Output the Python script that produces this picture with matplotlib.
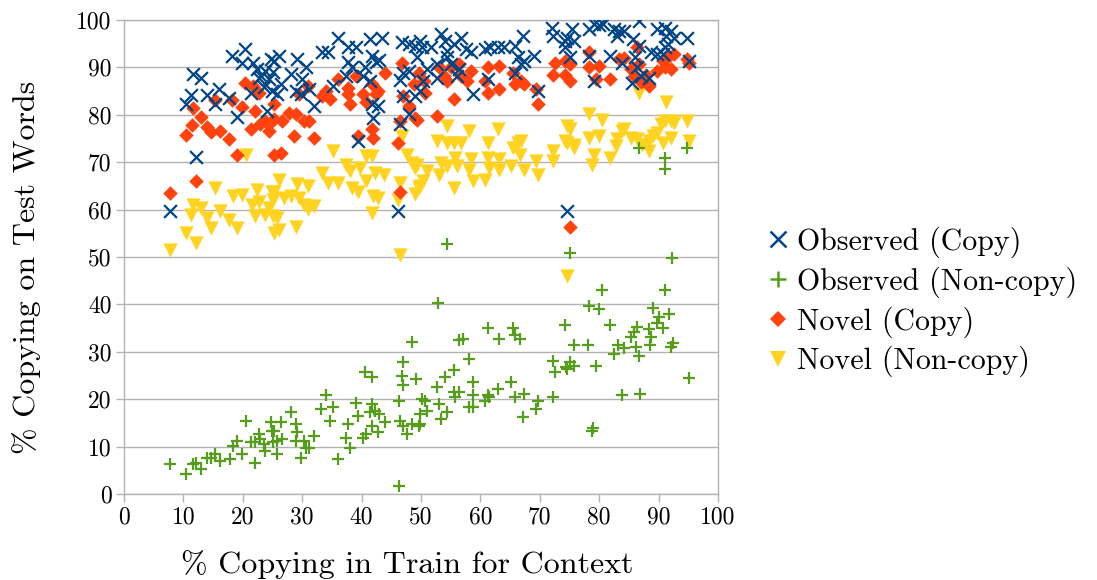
import matplotlib
matplotlib.use("Agg")
import matplotlib.pyplot as plt
from matplotlib.lines import Line2D

plt.rcParams['font.family'] = ['cmr10', 'DejaVu Serif']
plt.rcParams['mathtext.fontset'] = 'cm'
plt.rcParams['axes.unicode_minus'] = False
plt.rcParams['axes.formatter.use_mathtext'] = True

# ---------------- data ----------------
obs_copy = [
    (7.7,59.7),(12.2,71.0),(10.5,82.2),(11.3,84.1),(11.6,88.6),(13.0,87.8),(13.9,84.1),(15.3,82.2),
    (16.0,85.4),(17.7,83.6),(19.0,79.5),(18.2,92.4),(20.4,93.9),(19.8,91.0),(21.8,91.0),(22.4,89.6),
    (23.0,88.2),(22.7,87.8),(23.8,89.3),(24.7,91.7),(24.4,87.6),(21.3,84.7),(23.5,85.8),(24.1,80.8),
    (24.9,85.0),(26.1,92.4),(25.2,91.4),(25.0,89.0),(26.4,86.4),(25.8,84.3),(28.1,88.6),(29.2,91.7),
    (30.6,90.0),(30.0,87.5),(29.0,85.0),(29.8,84.3),(31.2,85.4),(32.0,81.8),(33.4,93.2),(34.3,93.2),
    (36.0,96.3),(37.7,94.2),(39.1,94.2),(37.7,91.1),(38.3,90.0),(40.5,90.0),(41.4,95.9),(43.4,96.3),
    (41.7,92.4),(42.5,91.1),(43.0,91.5),(37.4,88.2),(40.2,88.2),(41.4,87.1),(41.7,82.2),(41.9,79.3),
    (42.8,81.8),(39.4,74.5),(35.2,86.1),(46.8,95.3),(47.9,94.9),(49.0,94.6),(49.3,92.1),(47.0,88.9),
    (47.9,89.2),(46.5,87.3),(47.0,84.0),(47.9,80.1),(46.5,78.0),(49.0,84.0),(46.2,59.6),(49.9,95.6),
    (50.2,94.2),(51.6,94.2),(53.3,97.0),(54.1,95.6),(54.4,93.5),(55.6,95.0),(56.7,96.3),(57.6,93.9),
    (58.4,93.2),(60.7,93.9),(61.6,94.2),(62.9,94.2),(64.0,94.2),(65.8,94.6),(67.2,96.6),(66.3,92.1),
    (66.9,90.7),(67.4,91.4),(69.1,92.4),(51.0,89.6),(52.7,90.7),(54.4,92.1),(55.0,90.7),(56.4,89.6),
    (56.1,88.2),(50.4,87.1),(52.7,87.8),(49.9,85.0),(58.7,84.3),(61.2,87.5),(65.8,88.9),(69.7,85.0),
    (72.0,98.4),(72.3,96.6),(74.3,94.2),(74.3,95.6),(74.5,59.7),(75.4,98.1),(74.5,96.3),(75.7,95.6),
    (75.1,92.1),(78.2,98.1),(79.1,99.2),(79.9,98.9),(80.7,99.2),(78.2,92.4),(79.1,87.1),(81.9,92.4),
    (82.5,98.1),(83.3,97.7),(83.0,96.6),(84.2,97.7),(83.9,91.0),(85.7,96.0),(86.7,99.8),(86.7,94.6),
    (86.0,92.1),(86.4,90.0),(85.6,86.8),(87.0,88.2),(88.4,87.8),(88.7,93.2),(89.8,92.8),(90.7,92.8),
    (91.5,94.9),(89.8,98.1),(91.0,98.4),(92.1,97.7),(91.3,96.6),(92.6,96.3),(94.7,96.3),(95.2,91.4),
    (91.0,94.2),
]

obs_noncopy = [
    (7.7,6.4),(10.5,4.2),(11.6,6.3),(12.2,6.6),(13.0,5.2),(13.9,7.7),(14.7,7.7),(15.3,8.4),(16.2,7.0),
    (17.9,7.3),(19.8,8.4),(18.4,10.2),(19.0,11.2),(20.5,15.3),(21.3,10.9),(22.1,6.6),(22.1,10.9),
    (22.7,12.6),(22.9,11.6),(23.5,10.5),(23.8,9.1),(24.7,15.1),(24.9,13.3),(25.0,10.9),(25.2,13.3),
    (26.4,15.1),(25.8,11.2),(26.6,11.6),(25.8,8.4),(28.1,17.2),(29.0,14.8),(29.2,13.0),(29.0,11.2),
    (29.8,7.7),(30.3,11.2),(30.6,9.8),(31.2,9.8),(32.0,12.3),(33.2,17.9),(34.0,20.8),(35.2,18.3),
    (34.6,15.5),(36.0,7.3),(37.7,14.8),(37.4,11.9),(38.0,9.8),(39.1,19.3),(39.4,16.5),(40.2,11.9),
    (40.5,25.7),(41.7,24.6),(41.7,19.0),(41.4,17.2),(42.2,17.6),(41.7,14.4),(40.8,12.6),(42.8,13.0),
    (43.9,15.1),(43.0,16.9),(46.3,19.7),(46.5,15.5),(47.0,14.4),(47.6,12.6),(48.5,14.8),(49.6,14.4),
    (46.3,1.7),(48.5,32.1),(46.9,27.8),(46.8,25.0),(47.0,22.9),(49.1,24.3),(54.3,52.8),(52.8,40.3),
    (50.2,20.1),(50.7,19.7),(49.9,16.9),(51.0,17.6),(49.9,14.8),(52.7,22.5),(53.0,19.0),(53.3,15.8),
    (54.1,24.6),(54.4,17.2),(55.6,26.1),(55.6,21.5),(55.8,20.4),(56.4,21.5),(56.4,32.4),(57.0,32.8),
    (58.1,28.5),(58.7,23.6),(58.7,20.8),(58.1,18.3),(58.7,18.3),(60.7,19.7),(61.2,20.8),(61.4,20.5),
    (61.2,35.1),(62.9,22.2),(63.2,32.8),(65.1,23.7),(65.5,35.1),(65.8,33.5),(66.7,32.8),(65.9,20.4),
    (67.2,16.2),(67.4,21.1),(69.4,17.9),(69.7,19.7),(72.3,20.4),(72.2,28.0),(72.5,25.7),(74.3,35.6),
    (74.4,26.7),(75.1,50.9),(92.2,49.7),(80.5,43.0),(91.0,43.0),(78.2,39.6),(79.9,39.1),(89.0,39.3),
    (91.8,37.9),(90.1,37.4),(81.8,35.6),(86.4,35.2),(88.4,34.9),(89.8,36.0),(90.7,35.1),(85.9,34.2),
    (85.3,33.1),(88.7,33.1),(75.7,31.4),(78.1,31.4),(83.2,31.4),(84.2,30.7),(86.2,31.0),(88.6,31.4),
    (92.4,31.8),(92.1,31.1),(82.5,29.6),(86.7,29.2),(75.1,27.8),(75.7,27.1),(74.5,26.4),(79.4,27.1),
    (95.2,24.4),(83.8,20.9),(86.9,21.1),(79.0,14.0),(78.8,13.3),(86.7,73.0),(91.0,70.9),(91.0,68.6),
    (94.8,73.0),
]

novel_copy = [
    (7.7,63.5),(12.2,66.1),(10.5,75.7),(11.5,77.8),(11.6,81.5),(13.0,79.5),(13.9,77.4),(14.7,76.4),
    (16.2,76.6),(17.7,74.8),(19.0,71.6),(15.3,83.1),(18.2,83.1),(19.8,81.6),(20.4,86.8),(22.1,80.9),
    (22.7,84.7),(21.3,77.1),(22.9,78.0),(23.8,78.7),(24.4,76.6),(24.9,78.7),(25.2,71.6),(21.8,86.0),
    (26.4,72.0),(25.2,79.2),(26.6,78.7),(25.2,82.2),(27.8,80.4),(29.0,80.1),(28.6,75.5),(30.3,78.7),
    (31.2,78.7),(32.0,75.1),(30.9,86.1),(29.5,84.3),(33.4,84.0),(34.0,85.0),(34.6,83.3),(36.0,87.5),
    (37.7,85.7),(37.7,84.3),(38.0,82.2),(39.1,88.2),(40.2,84.3),(40.8,82.6),(41.7,86.4),(42.5,84.3),
    (42.8,85.0),(43.9,88.9),(41.7,76.9),(41.9,75.1),(39.4,75.5),(46.8,91.0),(47.0,84.0),(46.5,78.7),
    (46.2,74.1),(47.9,81.8),(49.0,79.3),(48.8,86.4),(49.6,88.9),(46.5,63.8),(50.7,84.7),(50.5,87.1),
    (49.3,79.0),(52.7,79.7),(53.0,90.0),(53.8,88.2),(54.4,87.1),(55.0,90.0),(55.6,83.3),(56.4,90.7),
    (56.7,88.2),(57.8,87.1),(58.4,89.2),(61.2,90.0),(61.2,84.7),(63.2,90.4),(63.2,85.4),(60.7,87.1),
    (65.5,88.9),(65.8,86.4),(66.9,87.1),(67.4,86.6),(69.7,82.2),(69.4,85.4),(72.3,88.3),(72.5,91.0),
    (74.3,91.4),(74.3,88.3),(75.1,90.7),(75.1,87.1),(78.2,93.2),(78.2,90.0),(79.9,90.4),(79.4,87.5),
    (81.9,87.5),(83.3,91.7),(84.2,92.0),(85.3,89.6),(86.4,94.2),(86.7,90.7),(85.9,88.2),(87.0,86.9),
    (88.4,86.1),(87.9,88.4),(89.8,89.2),(90.7,91.4),(91.5,92.1),(92.1,89.6),(92.6,92.8),(91.0,90.0),
    (94.7,91.7),(95.2,91.0),(75.1,56.4),
]

novel_noncopy = [
    (7.7,51.5),(10.5,55.0),(12.2,52.9),(11.6,61.0),(11.3,58.9),(13.0,60.3),(13.9,58.2),(14.6,56.1),
    (15.3,64.5),(16.2,59.6),(17.7,57.8),(19.0,56.1),(18.4,62.8),(19.8,63.1),(20.5,71.6),(21.5,61.0),
    (22.4,64.2),(22.7,61.7),(22.1,58.6),(23.8,58.9),(24.4,60.3),(24.9,63.8),(25.0,58.6),(25.2,55.0),
    (26.1,66.3),(25.2,63.8),(25.0,62.0),(25.8,58.2),(26.1,55.7),(26.9,62.4),(28.1,62.8),(29.0,56.4),
    (29.2,65.3),(29.5,62.5),(30.3,61.0),(30.9,64.9),(30.9,60.1),(32.0,60.7),(33.4,67.7),(34.3,65.6),
    (35.2,72.3),(36.0,65.6),(37.4,69.5),(38.3,64.5),(38.0,68.1),(39.4,63.8),(39.7,68.8),(40.8,71.3),
    (40.8,66.0),(41.7,71.3),(41.9,62.8),(41.7,59.2),(42.2,67.7),(42.8,62.4),(43.7,67.4),(46.5,65.6),
    (46.8,75.5),(47.6,71.6),(46.2,62.1),(46.5,50.4),(48.5,69.9),(49.0,68.8),(49.6,64.5),(49.0,63.3),
    (49.3,69.5),(50.4,66.0),(49.9,64.9),(51.0,68.1),(52.7,74.5),(53.3,69.9),(53.0,67.4),(54.4,77.6),
    (54.4,74.1),(54.4,69.2),(55.6,74.1),(55.8,70.9),(56.0,69.2),(55.6,64.5),(56.7,74.1),(58.1,76.6),
    (58.4,70.6),(58.1,68.4),(58.7,66.0),(60.7,66.3),(61.2,74.1),(61.2,70.9),(61.5,68.8),(62.9,76.9),
    (63.2,70.6),(63.2,68.4),(65.2,69.2),(65.5,73.0),(66.3,74.1),(66.9,74.5),(66.6,71.6),(67.4,68.4),
    (69.4,70.2),(69.7,67.4),(72.3,72.3),(72.3,70.2),(74.3,74.5),(74.5,77.6),(75.1,76.9),(74.5,74.1),
    (75.7,73.7),(75.7,72.9),(78.2,80.1),(80.5,79.0),(78.2,75.1),(79.9,75.5),(79.1,71.6),(78.8,69.5),
    (81.9,70.9),(83.0,74.9),(83.9,76.6),(84.2,77.0),(82.8,73.4),(85.3,75.1),(86.4,74.8),(86.7,84.7),
    (87.2,73.7),(88.4,74.5),(88.4,72.3),(89.0,75.5),(89.8,76.2),(91.0,78.7),(91.3,82.8),(90.4,78.0),
    (92.1,78.7),(92.6,78.3),(92.1,75.1),(90.7,74.1),(94.7,78.7),(95.2,74.5),(74.5,46.0),
]

series_labels = ['Observed (Copy)', 'Observed (Non-copy)', 'Novel (Copy)', 'Novel (Non-copy)']
x_ticks = [0, 10, 20, 30, 40, 50, 60, 70, 80, 90, 100]
y_ticks = [0, 10, 20, 30, 40, 50, 60, 70, 80, 90, 100]
x_label = '% Copying in Train for Context'
y_label = '% Copying on Test Words'

# ---------------- styles ----------------
C_BLUE = '#004586'
C_GREEN = '#579d1c'
C_RED = '#ff420e'
C_YELLOW = '#ffd320'
GRID = '#b3b3b3'

fig = plt.figure(figsize=(10.97, 5.80), dpi=100)
ax = fig.add_axes([124/1097, 1-494/580, (718-124)/1097, (494-20)/580])

def xy(pts):
    return [p[0] for p in pts], [p[1] for p in pts]

x, y = xy(novel_noncopy)
ax.scatter(x, y, marker='v', s=105, color=C_YELLOW, linewidths=0, zorder=3)
x, y = xy(novel_copy)
ax.scatter(x, y, marker='D', s=55, color=C_RED, linewidths=0, zorder=4)
x, y = xy(obs_noncopy)
ax.scatter(x, y, marker='+', s=85, color=C_GREEN, linewidths=1.6, zorder=5)
x, y = xy(obs_copy)
ax.scatter(x, y, marker='x', s=85, color=C_BLUE, linewidths=1.6, zorder=6)

ax.set_xlim(0, 100)
ax.set_ylim(0, 100)
ax.set_xticks(x_ticks)
ax.set_xticklabels([str(t) for t in x_ticks])
ax.set_yticks(y_ticks)
ax.set_yticklabels([str(t) for t in y_ticks])
ax.tick_params(axis='both', direction='out', length=6, width=1, color=GRID,
               labelsize=17, pad=3)
ax.yaxis.grid(True, color=GRID, linewidth=1)
ax.set_axisbelow(True)
for s in ax.spines.values():
    s.set_color(GRID)
    s.set_linewidth(1)

ax.set_xlabel(x_label, fontsize=23, labelpad=15.5)
ax.set_ylabel(y_label, fontsize=23, labelpad=25)
ax.xaxis.label.set_x(0.477)
ax.yaxis.label.set_y(0.478)

handles = [
    Line2D([], [], marker='x', linestyle='none', color=C_BLUE, markersize=11, markeredgewidth=1.8),
    Line2D([], [], marker='+', linestyle='none', color=C_GREEN, markersize=12, markeredgewidth=1.8),
    Line2D([], [], marker='D', linestyle='none', color=C_RED, markersize=8.5, markeredgewidth=0),
    Line2D([], [], marker='v', linestyle='none', color=C_YELLOW, markersize=12, markeredgewidth=0),
]
fig.legend(handles, series_labels, loc='center left', bbox_to_anchor=(767/1097, 1-302/580),
           frameon=False, fontsize=21.5, handlelength=0.75, handletextpad=0.25,
           labelspacing=0.28, borderpad=0, borderaxespad=0)

fig.savefig('out.png', dpi=100)
